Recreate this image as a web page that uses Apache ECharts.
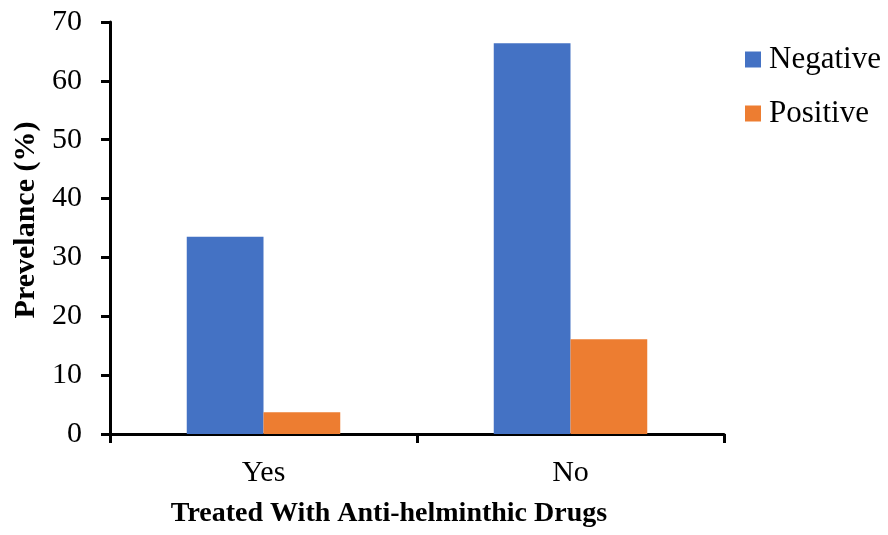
<!DOCTYPE html>
<html><head><meta charset="utf-8">
<script src="https://cdn.jsdelivr.net/npm/echarts@6/dist/echarts.min.js"></script>
<style>html,body{margin:0;padding:0;background:#fff}#c{width:888px;height:535px}</style>
</head><body><div id="c"></div>
<script>
const categories = ['Yes', 'No'];
const negative = [33.5, 66.4];
const positive = [3.7, 16.1];
const yTicks = [0, 10, 20, 30, 40, 50, 60, 70];

const font = "'Liberation Serif', 'Times New Roman', serif";
const chart = echarts.init(document.getElementById('c'));
chart.setOption({
  animation: false,
  textStyle: { fontFamily: font },
  grid: { left: 110, right: 164, top: 22, bottom: 101, containLabel: false, outerBoundsMode: 'none' },
  legend: {
    orient: 'vertical', left: 745, top: 44, padding: 0, itemWidth: 16, itemHeight: 16, itemGap: 23,
    icon: 'rect',
    textStyle: { fontFamily: font, fontSize: 31, color: '#000', padding: [0, 0, 0, 3] },
    data: ['Negative', 'Positive']
  },
  xAxis: {
    type: 'category', data: categories,
    axisLine: { lineStyle: { color: '#000', width: 3 } },
    axisTick: { show: true, length: 9, lineStyle: { color: '#000', width: 3 } },
    axisLabel: { fontFamily: font, fontSize: 30, color: '#000', margin: 24 },
    name: 'Treated With Anti-helminthic Drugs', nameLocation: 'middle', nameGap: 66,
    nameTextStyle: { fontFamily: font, fontSize: 28, fontWeight: 'bold', color: '#000', padding: [0, 56, 0, 0] }
  },
  yAxis: {
    type: 'value', min: yTicks[0], max: yTicks[yTicks.length - 1], interval: 10,
    splitLine: { show: false },
    axisLine: { show: true, lineStyle: { color: '#000', width: 3 } },
    axisTick: { show: true, length: 9, lineStyle: { color: '#000', width: 3 } },
    axisLabel: { fontFamily: font, fontSize: 30, color: '#000', margin: 28 },
    name: 'Prevelance (%)', nameLocation: 'middle', nameGap: 64, nameRotate: 90,
    nameTextStyle: { fontFamily: font, fontSize: 30, fontWeight: 'bold', color: '#000', padding: [0, 0, 0, 16] }
  },
  series: [
    { name: 'Negative', type: 'bar', data: negative, barGap: '0%', barCategoryGap: '50%',
      itemStyle: { color: '#4472C4' } },
    { name: 'Positive', type: 'bar', data: positive,
      itemStyle: { color: '#ED7D31' } }
  ]
});
</script></body></html>
